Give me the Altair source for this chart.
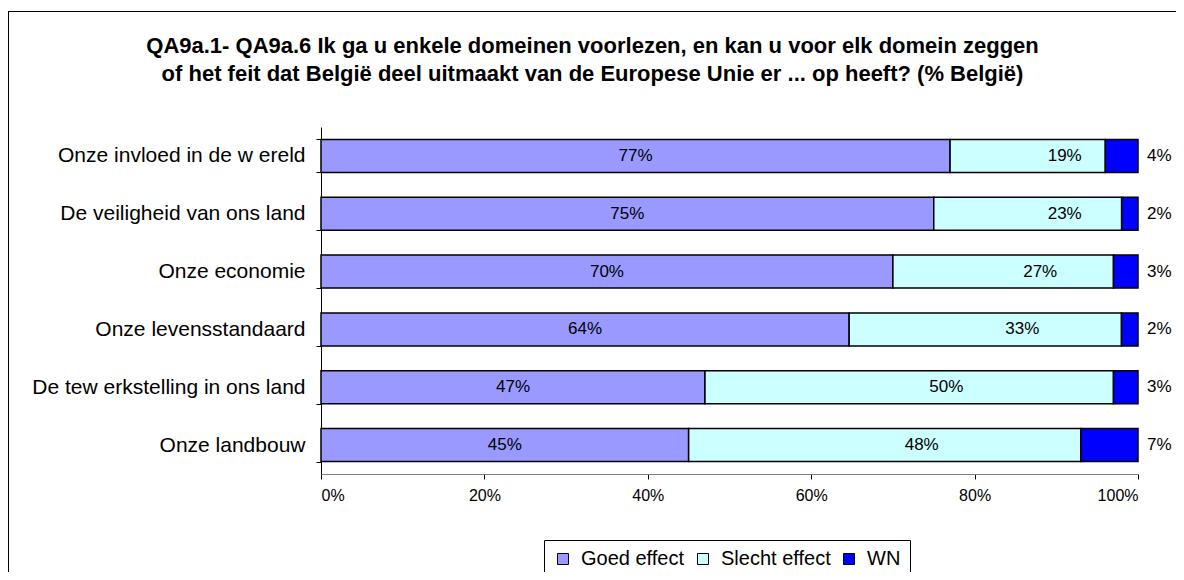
import altair as alt
import pandas as pd

categories = [
    "Onze invloed in de w ereld",
    "De veiligheid van ons land",
    "Onze economie",
    "Onze levensstandaard",
    "De tew erkstelling in ons land",
    "Onze landbouw",
]
goed = [77, 75, 70, 64, 47, 45]
slecht = [19, 23, 27, 33, 50, 48]
wn = [4, 2, 3, 2, 3, 7]
series = ["Goed effect", "Slecht effect", "WN"]
colors = ["#9999FF", "#CCFFFF", "#0000FF"]
tick_values = [0, 0.2, 0.4, 0.6, 0.8, 1.0]
title_lines = [
    "QA9a.1- QA9a.6 Ik ga u enkele domeinen voorlezen, en kan u voor elk domein zeggen",
    "of het feit dat België deel uitmaakt van de Europese Unie er  ... op heeft? (% België)",
]

rows = []
for i, c in enumerate(categories):
    for j, (s, vals) in enumerate(zip(series, [goed, slecht, wn])):
        rows.append({"cat": c, "series": s, "order": j, "value": vals[i], "label": f"{vals[i]}%"})
df = pd.DataFrame(rows)

FONT = "Liberation Sans"
W, H = 817, 347
PL, PT = 313, 119
TOTAL_W, TOTAL_H = 1168, 564

base = (
    alt.Chart(df)
    .transform_joinaggregate(total="sum(value)", groupby=["cat"])
    .transform_calculate(pct="datum.value / datum.total")
    .transform_stack(stack="pct", groupby=["cat"], as_=["x0", "x1"], sort=[alt.SortField("order")])
    .transform_calculate(mid="(datum.x0 + datum.x1) / 2")
)

y_enc = alt.Y(
    "cat:N",
    sort=categories,
    title=None,
    scale=alt.Scale(paddingInner=0.43, paddingOuter=0.215),
    axis=alt.Axis(
        tickBand="extent",
        tickSize=5,
        tickColor="#000000",
        domainColor="#000000",
        labelFontSize=21,
        labelPadding=11,
        labelColor="#000000",
        labelFont=FONT,
        labelLimit=0,
    ),
)
x_scale = alt.Scale(domain=[0, 1], nice=False)

bars = base.mark_bar(stroke="black", strokeWidth=1.5).encode(
    x=alt.X(
        "x0:Q",
        scale=x_scale,
        title=None,
        axis=alt.Axis(
            values=tick_values,
            format="%",
            tickSize=5,
            tickColor="#000000",
            domainColor="#808080",
            labelFontSize=16,
            labelPadding=8,
            labelColor="#000000",
            labelFont=FONT,
            grid=False,
        ),
    ),
    x2="x1:Q",
    y=y_enc,
    color=alt.Color(
        "series:N",
        scale=alt.Scale(domain=series, range=colors),
        legend=alt.Legend(
            title=None,
            orient="none",
            direction="horizontal",
            legendX=223,
            legendY=413,
            strokeColor="#000000",
            padding=9,
            symbolType="square",
            symbolSize=121,
            symbolStrokeColor="#000000",
            symbolStrokeWidth=1,
            labelFontSize=20,
            labelFont=FONT,
            labelColor="#000000",
            columnPadding=8,
            labelOffset=8,
        ),
    ),
)

txt_common = dict(font=FONT, fontSize=17, color="#000000", baseline="middle")

goed_txt = base.transform_filter("datum.order == 0").mark_text(align="center", **txt_common).encode(
    x=alt.X("mid:Q", scale=x_scale), y=alt.Y("cat:N", sort=categories), text="label:N"
)
slecht_txt = base.transform_filter("datum.order == 1").mark_text(align="center", dx=37, **txt_common).encode(
    x=alt.X("mid:Q", scale=x_scale), y=alt.Y("cat:N", sort=categories), text="label:N"
)
wn_txt = base.transform_filter("datum.order == 2").mark_text(align="left", dx=9, **txt_common).encode(
    x=alt.X("x1:Q", scale=x_scale), y=alt.Y("cat:N", sort=categories), text="label:N"
)

frame_df = pd.DataFrame({"k": [0]})
frame_top = alt.Chart(frame_df).mark_rule(color="#000000", strokeWidth=1).encode(
    x=alt.value(-PL), x2=alt.value(TOTAL_W - PL), y=alt.value(-115.5)
)
frame_left = alt.Chart(frame_df).mark_rule(color="#000000", strokeWidth=1).encode(
    x=alt.value(-PL + 0.5), y=alt.value(-116), y2=alt.value(TOTAL_H - PT)
)

chart = (
    alt.layer(bars, goed_txt, slecht_txt, wn_txt, frame_top, frame_left)
    .properties(
        width=W,
        height=H,
        autosize=alt.AutoSizeParams(type="none"),
        padding={"left": PL, "top": PT, "right": TOTAL_W - PL - W, "bottom": TOTAL_H - PT - H},
        title=alt.TitleParams(
            text=title_lines,
            font=FONT,
            fontSize=22,
            fontWeight="bold",
            color="#000000",
            anchor="middle",
            dx=-137,
            offset=-75,
            lineHeight=28,
        ),
    )
    .configure_view(stroke=None)
    .configure_axis(grid=False)
)

chart.save("out.html", embed_options={"renderer": "svg", "actions": False})
